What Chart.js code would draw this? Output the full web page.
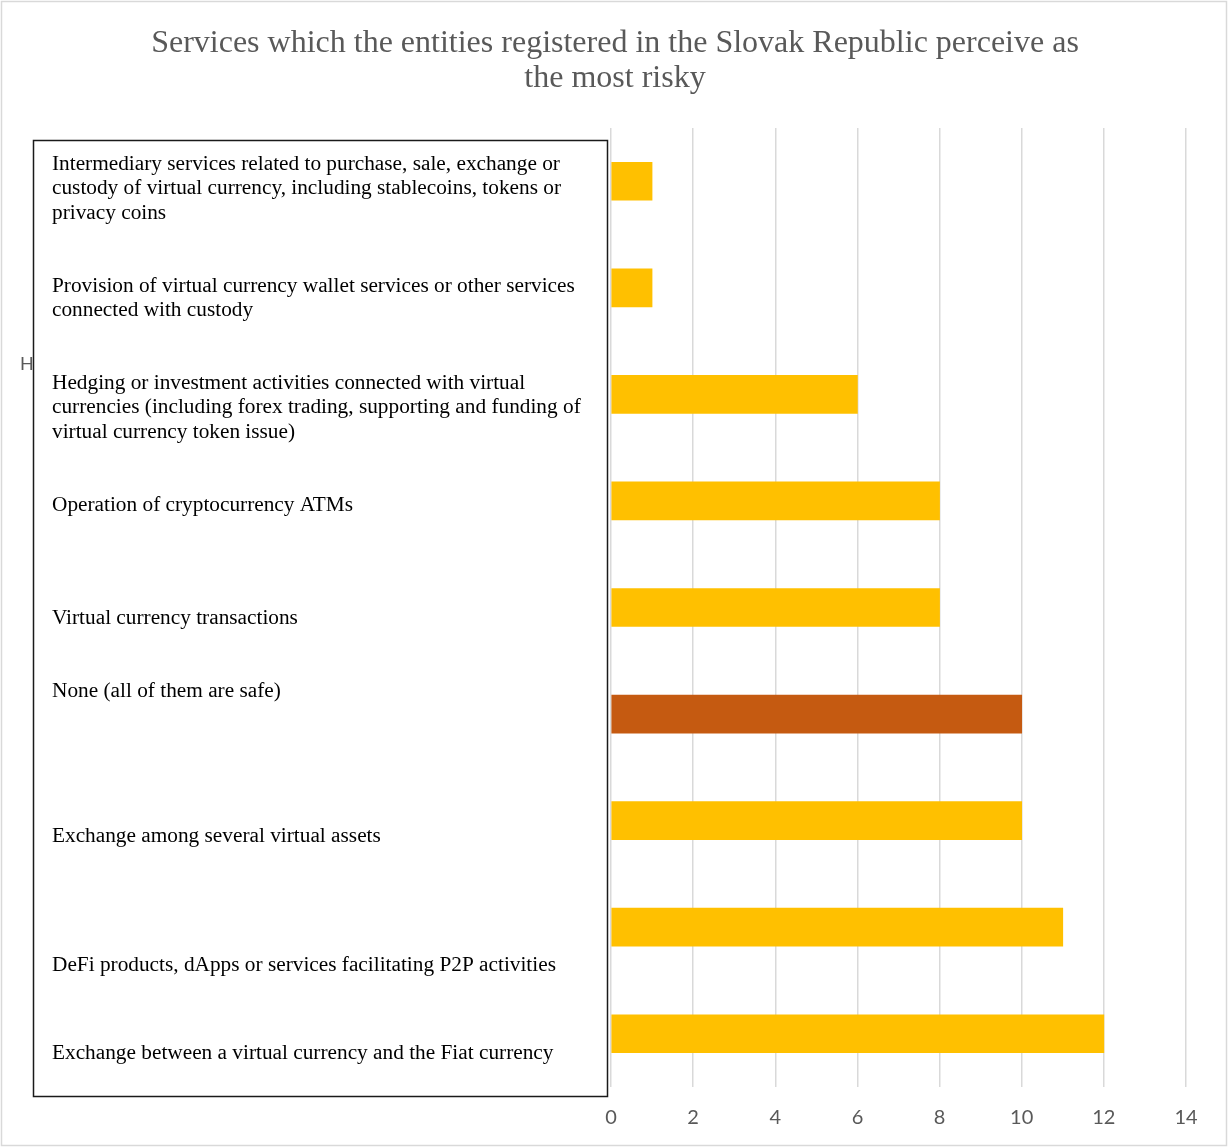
<!DOCTYPE html>
<html>
<head>
<meta charset="utf-8">
<script src="https://cdn.jsdelivr.net/npm/chart.js@4/dist/chart.umd.min.js"></script>
<style>
  html, body { margin: 0; padding: 0; background: #fff; }
  #wrap { width: 1228px; height: 1147px; position: relative; }
</style>
</head>
<body>
<div id="wrap"><canvas id="c" width="1228" height="1147"></canvas></div>
<script>
// Chart title (two lines)
const titleLines = [
  'Services which the entities registered in the Slovak Republic perceive as',
  'the most risky'
];

// Service categories, top to bottom, each split into its printed lines
const categories = [
  ['Intermediary services related to purchase, sale, exchange or',
   'custody of virtual currency, including stablecoins, tokens or',
   'privacy coins'],
  ['Provision of virtual currency wallet services or other services',
   'connected with custody'],
  ['Hedging or investment activities connected with virtual',
   'currencies (including forex trading, supporting and funding of',
   'virtual currency token issue)'],
  ['Operation of cryptocurrency ATMs'],
  ['Virtual currency transactions'],
  ['None (all of them are safe)'],
  ['Exchange among several virtual assets'],
  ['DeFi products, dApps or services facilitating P2P activities'],
  ['Exchange between a virtual currency and the Fiat currency']
];

// Number of entities naming each service
const counts = [1, 1, 6, 8, 8, 10, 10, 11, 12];

// Bar fill per category ("None" is highlighted)
const barColors = ['#FFC000', '#FFC000', '#FFC000', '#FFC000', '#FFC000',
                   '#C55A11', '#FFC000', '#FFC000', '#FFC000'];

// Value axis ticks
const xTicks = [0, 2, 4, 6, 8, 10, 12, 14];

const SERIF = '"Liberation Serif", "Times New Roman", serif';
const SANS = 'Lato, Calibri, "Liberation Sans", sans-serif';

// Title, outer frame and the boxed category legend
const decorPlugin = {
  id: 'decor',
  beforeDraw(chart) {
    const ctx = chart.ctx;
    ctx.save();
    ctx.fillStyle = '#ffffff';
    ctx.fillRect(0, 0, chart.width, chart.height);
    ctx.strokeStyle = '#d9d9d9';
    ctx.lineWidth = 1.5;
    ctx.strokeRect(1.5, 1.5, chart.width - 3, chart.height - 3);

    ctx.fillStyle = '#595959';
    ctx.font = '32px ' + SERIF;
    ctx.textAlign = 'center';
    ctx.textBaseline = 'middle';
    titleLines.forEach((t, i) => ctx.fillText(t, 615, 44 + i * 35));

    // first letter of the underlying axis label, left of the legend box
    ctx.font = '18px ' + SANS;
    ctx.textAlign = 'left';
    ctx.fillText(categories[2][0].charAt(0), 20, 364);
    ctx.restore();
  },
  afterDraw(chart) {
    const ctx = chart.ctx;
    ctx.save();
    const boxL = 33, boxT = 140, boxR = 608, boxB = 1097;
    ctx.fillStyle = '#ffffff';
    ctx.fillRect(boxL, boxT, boxR - boxL, boxB - boxT);
    ctx.strokeStyle = '#1a1a1a';
    ctx.lineWidth = 1.5;
    ctx.strokeRect(boxL + 0.5, boxT + 0.5, boxR - boxL - 1, boxB - boxT - 1);

    // vertical position of the first line of each entry
    const firstLineY = [164, 286, 383, 505, 618, 691, 836, 965, 1053];
    ctx.fillStyle = '#000000';
    ctx.font = '21.3px ' + SERIF;
    ctx.textAlign = 'left';
    ctx.textBaseline = 'middle';
    categories.forEach((lines, i) => {
      lines.forEach((ln, j) => ctx.fillText(ln, 52, firstLineY[i] + j * 24.5));
    });
    ctx.restore();
  }
};

new Chart(document.getElementById('c'), {
  type: 'bar',
  data: {
    labels: categories,
    datasets: [{
      data: counts,
      backgroundColor: barColors,
      borderWidth: 0,
      barThickness: 38
    }]
  },
  options: {
    indexAxis: 'y',
    responsive: false,
    animation: false,
    devicePixelRatio: 1,
    layout: { padding: { left: 611, right: 42, top: 128, bottom: 0 } },
    plugins: {
      legend: { display: false },
      title: { display: false },
      tooltip: { enabled: false }
    },
    scales: {
      y: {
        display: false
      },
      x: {
        min: 0,
        max: 14,
        afterBuildTicks(scale) {
          scale.ticks = xTicks.map(v => ({ value: v }));
        },
        afterFit(scale) { scale.height = 60; },
        grid: {
          color: '#d9d9d9',
          lineWidth: 1.5,
          drawTicks: false
        },
        border: { display: false },
        ticks: {
          color: '#595959',
          font: { family: SANS, size: 20 },
          padding: 19
        }
      }
    }
  },
  plugins: [decorPlugin]
});
</script>
</body>
</html>
